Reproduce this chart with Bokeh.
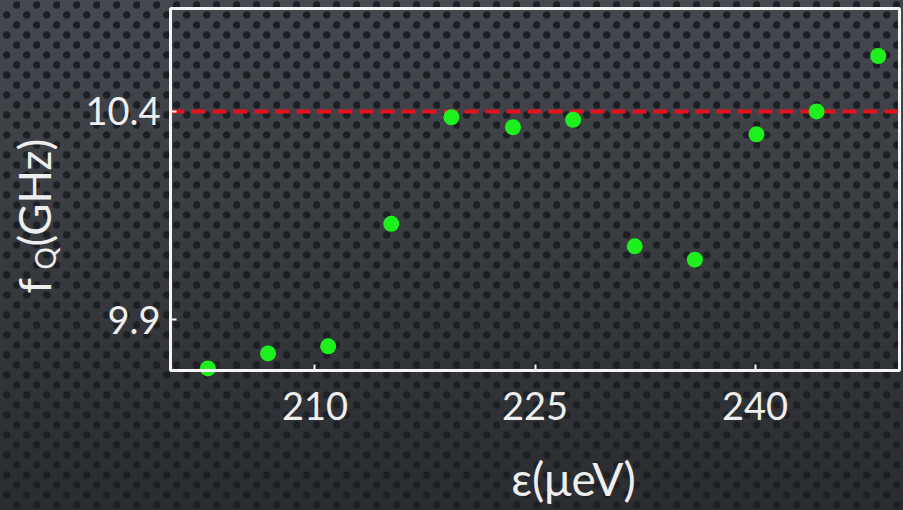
from bokeh.plotting import figure
from bokeh.models import FixedTicker, Range1d, BoxAnnotation
from bokeh.core.properties import value
from bokeh.embed import file_html
from bokeh.resources import INLINE
import math

# Detuning epsilon (ueV) and qubit frequency f_Q (GHz)
eps_uev = [202.7, 206.8, 210.9, 215.2, 219.3, 223.5, 227.6, 231.8, 235.9, 240.1, 244.2, 248.4]
fq_ghz = [9.783, 9.819, 9.836, 10.130, 10.386, 10.362, 10.380, 10.076, 10.044, 10.345, 10.400, 10.533]

x_ticks = [210, 225, 240]
y_ticks = [9.9, 10.4]
ref_freq = 10.4

# visible data box and where it sits on the 903x510 canvas
X_LO, X_HI = 200.15, 249.85
Y_LO, Y_HI = 9.778, 10.647
W, H = 903, 510
BOX_L, BOX_R, BOX_T, BOX_B = 170, 899, 8, 370

KX = (BOX_R - BOX_L) / (X_HI - X_LO)
KY = (BOX_B - BOX_T) / (Y_HI - Y_LO)
x_start = X_LO - BOX_L / KX
y_top = Y_HI + BOX_T / KY


def x_at(px):
    return x_start + px / KX


def y_at(py):
    return y_top - py / KY


FONT = "Lato"
TXT = "#eeeeee"
LINE = "#f4f4f4"

p = figure(
    width=W, height=H, min_border=0,
    x_range=Range1d(x_at(0), x_at(W)), y_range=Range1d(y_at(H), y_at(0)),
    output_backend="svg", toolbar_location=None,
)

# perforated dark slide texture behind the whole canvas
p.background_fill_color = None
p.border_fill_color = None
p.outline_line_color = None
p.styles = {
    "background-image": (
        "radial-gradient(circle at 6.7px 15px, #1c1f23 3.2px, rgba(28,31,35,0) 4.3px),"
        "radial-gradient(circle at 16.7px 5px, #1c1f23 3.2px, rgba(28,31,35,0) 4.3px),"
        "linear-gradient(to bottom, #45484e, #2a2c30)"
    ),
    "background-size": "20px 20px, 20px 20px, 100% 100%",
}
p.xgrid.visible = False
p.ygrid.visible = False

# axes pinned to the edges of the data box
p.xaxis.fixed_location = Y_LO
p.yaxis.fixed_location = X_LO
p.xaxis.ticker = FixedTicker(ticks=x_ticks)
p.yaxis.ticker = FixedTicker(ticks=y_ticks)
for ax in (p.xaxis[0], p.yaxis[0]):
    ax.axis_line_color = None
    ax.major_tick_line_color = LINE
    ax.major_tick_line_width = 2
    ax.major_tick_in = 6
    ax.major_tick_out = 0
    ax.minor_tick_line_color = None
    ax.major_label_text_font = FONT
    ax.major_label_text_font_size = "38px"
    ax.major_label_text_color = TXT
p.xaxis.major_label_standoff = 21
p.yaxis.major_label_standoff = 10

# reference frequency
p.segment(x0=[X_LO], x1=[X_HI], y0=[ref_freq], y1=[ref_freq],
          line_color="#e3121e", line_width=4, line_dash="14 7")

p.scatter(eps_uev, fq_ghz, size=16, fill_color="#1ef01e", line_color=None)

# frame around the data box
p.add_layout(BoxAnnotation(left=X_LO, right=X_HI, bottom=Y_LO, top=Y_HI,
                           fill_color=None, line_color=LINE, line_alpha=1.0,
                           line_width=3))

# axis titles
p.text(x=[x_at(573)], y=[y_at(478)], text=["\u03b5(\u03bceV)"],
       text_font=value(FONT), text_font_size="46px", text_color=TXT,
       text_align="center", text_baseline="alphabetic")
p.text(x=[x_at(33), x_at(44), x_at(33)], y=[y_at(293), y_at(269), y_at(246)],
       text=["f", "Q", "(GHz)"], angle=math.pi / 2,
       text_font=value(FONT), text_font_size=["44px", "28px", "44px"], text_color=TXT,
       text_align="left", text_baseline="alphabetic")

open("out.html", "w").write(file_html(p, INLINE))
